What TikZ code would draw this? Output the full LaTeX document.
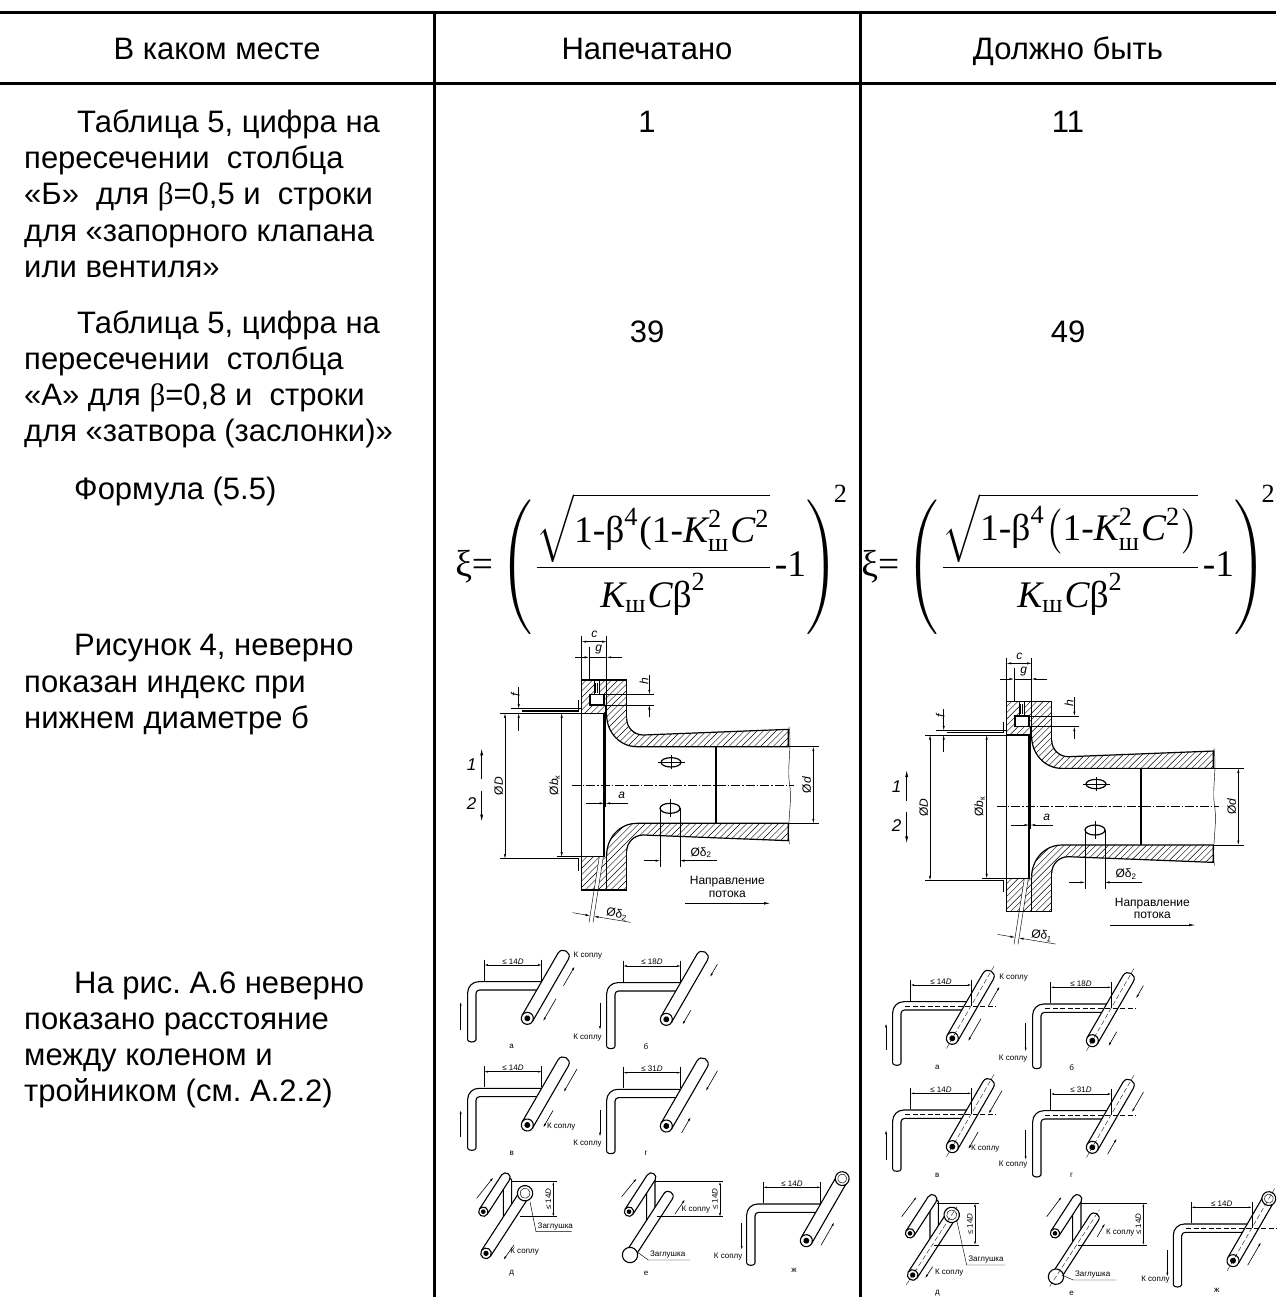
\documentclass[tikz,border=0pt]{standalone}
\usepackage{amsmath}
\usepackage{fontspec}
\setmainfont{Liberation Sans}
\newfontfamily\tms{Liberation Serif}
\usetikzlibrary{arrows.meta}
\frenchspacing

\newcommand\rt[1]{\text{\tms #1}}
\newcommand\ri[1]{\text{\tms\itshape #1}}
\newcommand\bodyfont{\fontsize{31}{36}\selectfont}
\newcommand\pfont{\fontsize{8}{9}\selectfont}
\newcommand\dimfont{\fontsize{12}{13}\selectfont}
\newcommand\numfont{\fontsize{17}{18}\selectfont\itshape}

\tikzset{
  tabrule/.style={line width=3pt},
  thk/.style={line width=1.2pt},
  thn/.style={line width=0.45pt},
  hatchln/.style={line width=0.4pt},
  pipeln/.style={line width=1.1pt},
  arr/.style={thn,-{Latex[length=4.5pt,width=2.2pt]}},
  arrtwo/.style={thn,{Latex[length=4.5pt,width=2.2pt]}-{Latex[length=4.5pt,width=2.2pt]}},
  bigarr/.style={line width=0.8pt,-{Latex[length=7pt,width=3pt]}},
  parr/.style={line width=0.6pt,-{Latex[length=4pt,width=2pt]}},
  parrtwo/.style={thn,{Latex[length=3.5pt,width=1.8pt]}-{Latex[length=3.5pt,width=1.8pt]}},
  axisln/.style={thn,dash pattern=on 9pt off 2pt on 1.5pt off 2pt},
  ctrln/.style={line width=0.35pt,dash pattern=on 5pt off 2.5pt},
  bodytxt/.style={font=\bodyfont, inner sep=0pt, anchor=base west},
  bodyc/.style={font=\bodyfont, inner sep=0pt, anchor=base},
  dlbl/.style={font=\dimfont, inner sep=1pt},
  plbl/.style={font=\pfont, inner sep=0.8pt},
  fml/.style={scale=3.75, inner sep=0pt},
}

% ---------- pipe pieces (local display units) ----------
\newcommand\dpipe[2]{%
  \fill[white] (0,-#2) -- (#1,-#2) .. controls ({#1+1.33*#2},-#2) and ({#1+1.33*#2},#2) .. (#1,#2) -- (0,#2) -- cycle;
  \draw[pipeln] (0,-#2) -- (#1,-#2) .. controls ({#1+1.33*#2},-#2) and ({#1+1.33*#2},#2) .. (#1,#2) -- (0,#2);
  \filldraw[pipeln,fill=white] (0,0) circle[radius=#2];
  \fill (0,0) circle[radius={0.5*#2}];
}
\newcommand\ringcap[2]{%
  \filldraw[pipeln,fill=white] (#1,0) circle[radius={1.15*#2}];
  \draw[thn] (#1,0) circle[radius={0.75*#2}];
}
\newcommand\elbow[1]{%
  \draw[pipeln, rounded corners=11pt] (0,#1) -- (0,0) -- (245,0);
  \draw[pipeln, rounded corners=3.5pt] (25,#1) -- (25,25) -- (245,25);
  \draw[pipeln] (0,#1) .. controls (3,{#1+8}) and (22,{#1+8}) .. (25,#1);
}
% #1 L, #2 dim text, #3 corrected, #4 ring cap
\newcommand\elbowfig[4]{%
  \elbow{#1}
  \begin{scope}[shift={(179,110)},rotate=60]
    \dpipe{215}{18}
    \ifnum#4=1 \ringcap{215}{18}\fi
    \ifnum#3=1 \draw[ctrln] (-35,0) -- (255,0);\fi
  \end{scope}
  \ifnum#3=1
    \draw[ctrln] (38,12.5) -- (310,12.5);
    \draw[thn] (54,-66) -- (54,-3);
    \draw[thn] (236,-66) -- (236,12.5);
    \draw[parrtwo] (54,-50) -- (236,-50);
    \node[plbl,anchor=south] at (145,-50) {#2};
  \else
    \draw[thn] (50,-66) -- (50,-3);
    \draw[thn] (222,-66) -- (222,-3);
    \draw[parrtwo] (50,-50) -- (222,-50);
    \node[plbl,anchor=south] at (136,-50) {#2};
  \fi
}
\newcommand\figD[1]{%
  \draw[pipeln] (60,30) -- (60,-95) .. controls (60,-104) and (85,-104) .. (85,-95) -- (85,10);
  \begin{scope}[rotate=57] \dpipe{122}{14} \end{scope}
  \begin{scope}[shift={(8,125)},rotate=57]
    \dpipe{215}{16}\ringcap{215}{20}
    \ifnum#1=1 \draw[ctrln] (-35,0) -- (245,0);\fi
  \end{scope}
}
\newcommand\figE[1]{%
  \draw[pipeln] (53,30) -- (53,-95) .. controls (53,-104) and (78,-104) .. (78,-95) -- (78,20);
  \begin{scope}[rotate=57] \dpipe{122}{14} \end{scope}
  \begin{scope}[shift={(3,130)},rotate=57]
    \dpipe{210}{15}
    \filldraw[pipeln,fill=white] (0,0) circle[radius=23];
    \ifnum#1=1 \draw[ctrln] (-35,0) -- (240,0);\fi
  \end{scope}
}

% ---------- flange drawing (display units) ----------
\newcommand\flangefig[1]{%
  \begin{scope}
    \clip (425,240) rectangle (498,340) (425,770) rectangle (498,870)
      (498,240) -- (560,240) -- (560,355) .. controls (560,383) and (582,405) .. (610,405) -- (1045,388) -- (1045,440) -- (590,440) .. controls (539,440) and (500,396) .. (500,345) -- (498,345) -- cycle
      (498,870) -- (560,870) -- (560,755) .. controls (560,727) and (582,705) .. (610,705) -- (1045,722) -- (1045,670) -- (590,670) .. controls (539,670) and (500,714) .. (500,765) -- (498,765) -- cycle;
    \foreach \hh in {660,679,...,1920} {\draw[hatchln] ({\hh-230},230) -- ({\hh-880},880);}
  \end{scope}
  \fill[white] (450,283) rectangle (492,315);
  \fill[white] (462,241) rectangle (478,283);
  \fill[white] (478,771) -- (490,771) -- (474.3,869) -- (462.3,869) -- cycle;
  \draw[thk] (560,355) -- (560,240) -- (425,240) -- (425,870) -- (560,870) -- (560,755);
  \draw[thk] (560,355) .. controls (560,383) and (582,405) .. (610,405) -- (1045,388) -- (1045,440) -- (590,440) .. controls (539,440) and (500,396) .. (500,345);
  \draw[thk] (560,755) .. controls (560,727) and (582,705) .. (610,705) -- (1045,722) -- (1045,670) -- (590,670) .. controls (539,670) and (500,714) .. (500,765);
  \draw[thk] (425,340) rectangle (492,770);
  \draw[thk] (500,240) -- (500,345);
  \draw[thk] (500,765) -- (500,870);
  \draw[thk] (450,283) rectangle (492,315);
  \draw[thn] (462,241) -- (462,283);
  \draw[thn] (478,241) -- (478,283);
  \draw[thn] (467,248) -- (467,278);
  \draw[thn] (472,248) -- (472,278);
  \draw[thn] (497,315) -- (497,622);
  \draw[thk] (828,440) -- (828,670);
  \draw[thn] (1047,380) .. controls (1056,450) and (1040,500) .. (1049,555) .. controls (1057,610) and (1041,660) .. (1048,732);
  \draw[thn] (478,770) -- (447,968);
  \draw[thn] (490,770) -- (459,968);
  \draw[axisln] (395,555) -- (1062,555);
  % pressure taps
  \draw[thk] (693,487) ellipse[x radius=30,y radius=14];
  \draw[thn] (655,487) -- (735,487);
  \draw[thn] (693,466) -- (693,508);
  \draw[thk] (690,625) ellipse[x radius=30,y radius=15];
  \draw[thn] (690,598) -- (690,652);
  \draw[thn] (660,625) -- (660,802);
  \draw[thn] (720,625) -- (720,802);
  \draw[arr] (612,782) -- (660,782);
  \draw[arr] (770,782) -- (720,782);
  \draw[thn] (770,782) -- (832,782);
  \node[dlbl] at (783,758) {Øδ\textsubscript{2}};
  % upstream pipe
  \draw[thk] (245,333) -- (415,333) -- (415,300);
  \draw[thk] (245,776) -- (415,776) -- (415,812);
  \draw[thn] (212,326) -- (425,326);
  \draw[thn] (180,340) -- (425,340);
  \draw[thn] (180,776) -- (245,776);
  \draw[thn] (350,770) -- (425,770);
  \draw[arr] (236,262) -- (236,326);
  \draw[arr] (236,392) -- (236,340);
  \node[dlbl,rotate=90] at (226,282) {\textit{f}};
  % D, b
  \draw[arrtwo] (195,340) -- (195,776);
  \node[dlbl,rotate=90,anchor=south] at (193,558) {Ø\textit{D}};
  \draw[arrtwo] (365,340) -- (365,770);
  \node[dlbl,rotate=90,anchor=south] at (363,555) {Ø\textit{b}\textsubscript{к}};
  % c, g
  \draw[thn] (425,108) -- (425,240);
  \draw[thn] (500,108) -- (500,240);
  \draw[arrtwo] (425,125) -- (500,125);
  \node[dlbl] at (463,103) {\textit{c}};
  \draw[thn] (447,140) -- (447,240);
  \draw[arr] (405,172) -- (447,172);
  \draw[arr] (547,172) -- (500,172);
  \draw[thn] (447,172) -- (500,172);
  \node[dlbl] at (476,150) {\textit{g}};
  % h
  \draw[thn] (492,283) -- (642,283);
  \draw[thn] (492,315) -- (642,315);
  \draw[arr] (628,226) -- (628,283);
  \draw[arr] (628,352) -- (628,315);
  \node[dlbl,rotate=90] at (612,243) {\textit{h}};
  % a
  \draw[arr] (438,610) -- (492,610);
  \draw[arr] (563,610) -- (497,610);
  \node[dlbl] at (545,586) {\textit{a}};
  % d
  \draw[thn] (1045,440) -- (1137,440);
  \draw[thn] (1045,670) -- (1137,670);
  \draw[arrtwo] (1120,440) -- (1120,670);
  \node[dlbl,rotate=90,anchor=south] at (1117,555) {Ø\textit{d}};
  % 1 and 2
  \node[font=\numfont,inner sep=0] at (95,495) {1};
  \draw[bigarr] (125,538) -- (125,445);
  \node[font=\numfont,inner sep=0] at (95,612) {2};
  \draw[bigarr] (125,572) -- (125,665);
  % lower delta
  \draw[arr] (398,938) -- (450,947);
  \draw[arr] (572,967) -- (462,949);
  \node[dlbl,rotate=-9] at (530,942) {Øδ\textsubscript{#1}};
  % flow direction
  \node[dlbl] at (862,845) {Направление};
  \node[dlbl] at (862,882) {потока};
  \draw[thn,-{Latex[length=6pt,width=2.5pt]}] (735,910) -- (990,910);
}

\begin{document}
\begin{tikzpicture}[x=1pt,y=-1pt]
\useasboundingbox (0,0) rectangle (1276,1297);
\fill[white] (0,0) rectangle (1276,1297);

% table rules
\draw[tabrule] (0,13) -- (1276,13);
\draw[tabrule] (0,84) -- (1276,84);
\draw[tabrule] (434.5,13) -- (434.5,1297);
\draw[tabrule] (860.5,13) -- (860.5,1297);

% header
\node[bodyc] (h1) at (217,60) {В каком месте};
\node[bodyc] (h2) at (647,60) {Напечатано};
\node[bodyc] (h3) at (1068,60) {Должно быть};

% left column
\node[bodytxt] (t1) at (77,133) {Таблица 5, цифра на};
\node[bodytxt] (t2) at (24,169) {пересечении\ \ столбца};
\node[bodytxt] (t3) at (24,205) {«Б»\ \ для {\tms β}=0,5 и\ \ строки};
\node[bodytxt] (t4) at (24,241) {для «запорного клапана};
\node[bodytxt] (t5) at (24,277) {или вентиля»};
\node[bodytxt] (t6) at (77,333) {Таблица 5, цифра на};
\node[bodytxt] (t7) at (24,369) {пересечении\ \ столбца};
\node[bodytxt] (t8) at (24,405) {«А» для {\tms β}=0,8 и\ \ строки};
\node[bodytxt] (t9) at (24,441) {для «затвора (заслонки)»};
\node[bodytxt] (t10) at (74,499) {Формула (5.5)};
\node[bodytxt] (t11) at (74,655) {Рисунок 4, неверно};
\node[bodytxt] (t12) at (24,692) {показан индекс при};
\node[bodytxt] (t13) at (24,728) {нижнем диаметре б};
\node[bodytxt] (t14) at (74,993) {На рис. А.6 неверно};
\node[bodytxt] (t15) at (24,1029) {показано расстояние};
\node[bodytxt] (t16) at (24,1065) {между коленом и};
\node[bodytxt] (t17) at (24,1101) {тройником (см. А.2.2)};

% numbers
\node[bodyc] (n1) at (647,133) {1};
\node[bodyc] (n2) at (1068,133) {11};
\node[bodyc] (n3) at (647,342) {39};
\node[bodyc] (n4) at (1068,342) {49};

% formulas
\node[fml] (f1) at (652,560) {$\rt{ξ=}\left(\rule[-11pt]{0pt}{27pt}\dfrac{\sqrt{\rt{1-β}^{\rt{4}}\rt{(1-}\ri{K}^{\rt{2}}_{\rt{ш}}\ri{C}^{\rt{2}}}}{\ri{K}_{\rt{ш}}\ri{C}\rt{β}^{\rt{2}}}\rt{-1}\right)^{\!\rt{2}}$};
\node[fml] (f2) at (1069,560) {$\rt{ξ=}\left(\rule[-11pt]{0pt}{27pt}\dfrac{\sqrt{\rt{1-β}^{\rt{4}}{\left(\rt{1-}\ri{K}^{\rt{2}}_{\rt{ш}}\ri{C}^{\rt{2}}\right)}}}{\ri{K}_{\rt{ш}}\ri{C}\rt{β}^{\rt{2}}}\rt{-1}\right)^{\!\rt{2}}$};

% flange drawings
\begin{scope}[shift={(440,600)},scale=1/3]
  \flangefig{2}
\end{scope}
\begin{scope}[shift={(865,621.7)},scale=1/3]
  \flangefig{1}
\end{scope}

% ---------- pipe figures, left column ----------
\begin{scope}[shift={(440,930)},scale=1/3]
  \begin{scope}[shift={(83,155)}]
    \elbowfig{175}{≤ 14\textit{D}}{0}{0}
    \draw[parr] (-21,145) -- (-21,60);
    \begin{scope}[shift={(179,110)},rotate=60]
      \draw[parr] (139,45) -- (206,45);
      \draw[parr] (94,45) -- (16,45);
    \end{scope}
    \node[plbl,anchor=west] (la1) at (315,-77) {К соплу};
    \node[plbl] (la2) at (132,195) {а};
  \end{scope}
  \begin{scope}[shift={(500,158)}]
    \elbowfig{192}{≤ 18\textit{D}}{0}{0}
    \draw[parr] (-20,62) -- (-20,142);
    \begin{scope}[shift={(179,110)},rotate=60]
      \draw[parr] (220,50) -- (175,50);
      \draw[parr] (60,50) -- (10,50);
    \end{scope}
    \node[plbl,anchor=east] (lb1) at (-12,164) {К соплу};
    \node[plbl] (lb2) at (118,192) {б};
  \end{scope}
  \begin{scope}[shift={(83,475)}]
    \elbowfig{180}{≤ 14\textit{D}}{0}{0}
    \draw[parr] (-21,145) -- (-21,65);
    \begin{scope}[shift={(179,110)},rotate=60]
      \draw[parr] (220,45) -- (140,45);
      \draw[parr] (77,45) -- (17,45);
    \end{scope}
    \node[plbl,anchor=west] (lv1) at (235,115) {К соплу};
    \node[plbl] (lv2) at (132,195) {в};
  \end{scope}
  \begin{scope}[shift={(500,478)}]
    \elbowfig{187}{≤ 31\textit{D}}{0}{0}
    \draw[parr] (-20,62) -- (-20,142);
    \begin{scope}[shift={(179,110)},rotate=60]
      \draw[parr] (220,50) -- (150,50);
      \draw[parr] (5,50) -- (60,50);
    \end{scope}
    \node[plbl,anchor=east] (lg1) at (-12,162) {К соплу};
    \node[plbl] (lg2) at (118,192) {г};
  \end{scope}
  \begin{scope}[shift={(920,822)}]
    \elbowfig{178}{≤ 14\textit{D}}{0}{1}
    \draw[parr] (-15,58) -- (-15,138);
    \begin{scope}[shift={(179,110)},rotate=60]
      \draw[parr] (10,45) -- (90,45);
    \end{scope}
    \node[plbl,anchor=east] (lz1) at (-10,158) {К соплу};
    \node[plbl] (lz2) at (142,198) {ж};
  \end{scope}
  \begin{scope}[shift={(130,845)}]
    \figD{0}
    \draw[thn] (85,-90) -- (222,-90);
    \draw[thn] (110,15) -- (222,15);
    \draw[parrtwo] (210,-90) -- (210,15);
    \node[plbl,rotate=90,anchor=south] (ld0) at (206,-38) {≤ 14\textit{D}};
    \draw[parr] (-20,-40) -- (30,-103);
    \draw[parr] (92,100) -- (60,145);
    \node[plbl,anchor=west] (ld1) at (78,120) {К соплу};
    \draw[thn] (140,-30) -- (158,60) -- (265,60);
    \node[plbl,anchor=south west] (ld2) at (160,58) {Заглушка};
    \node[plbl] (ld3) at (85,185) {д};
  \end{scope}
  \begin{scope}[shift={(567,845)}]
    \figE{0}
    \draw[thn] (78,-90) -- (283,-90);
    \draw[thn] (83,15) -- (283,15);
    \draw[parrtwo] (273,-90) -- (273,15);
    \node[plbl,rotate=90,anchor=south] (le0) at (269,-38) {≤ 14\textit{D}};
    \draw[parr] (-22,-45) -- (23,-100);
    \draw[parr] (138,7) -- (168,-37);
    \node[plbl,anchor=west] (le1) at (155,-5) {К соплу};
    \draw[thn] (23,120) -- (58,145) -- (183,145);
    \node[plbl,anchor=south west] (le2) at (60,143) {Заглушка};
    \node[plbl] (le3) at (51,185) {е};
  \end{scope}
\end{scope}

% ---------- pipe figures, right column ----------
\begin{scope}[shift={(860,930)},scale=1/3]
  \begin{scope}[shift={(98,215)}]
    \elbowfig{185}{≤ 14\textit{D}}{1}{0}
    \draw[parr] (-20,145) -- (-20,65);
    \begin{scope}[shift={(179,110)},rotate=60]
      \draw[parr] (139,45) -- (206,45);
      \draw[parr] (94,45) -- (16,45);
    \end{scope}
    \node[plbl,anchor=west] (ra1) at (317,-72) {К соплу};
    \node[plbl] (ra2) at (134,198) {а};
  \end{scope}
  \begin{scope}[shift={(518,222)}]
    \elbowfig{188}{≤ 18\textit{D}}{1}{0}
    \draw[parr] (-21,58) -- (-21,143);
    \begin{scope}[shift={(179,110)},rotate=60]
      \draw[parr] (220,50) -- (175,50);
      \draw[parr] (60,50) -- (10,50);
    \end{scope}
    \node[plbl,anchor=east] (rb1) at (-13,163) {К соплу};
    \node[plbl] (rb2) at (117,191) {б};
  \end{scope}
  \begin{scope}[shift={(98,540)}]
    \elbowfig{178}{≤ 14\textit{D}}{1}{0}
    \draw[parr] (-20,150) -- (-20,60);
    \begin{scope}[shift={(179,110)},rotate=60]
      \draw[parr] (220,45) -- (140,45);
      \draw[parr] (77,45) -- (17,45);
    \end{scope}
    \node[plbl,anchor=west] (rv1) at (232,115) {К соплу};
    \node[plbl] (rv2) at (134,195) {в};
  \end{scope}
  \begin{scope}[shift={(518,542)}]
    \elbowfig{193}{≤ 31\textit{D}}{1}{0}
    \draw[parr] (-21,58) -- (-21,148);
    \begin{scope}[shift={(179,110)},rotate=60]
      \draw[parr] (220,50) -- (150,50);
      \draw[parr] (5,50) -- (60,50);
    \end{scope}
    \node[plbl,anchor=east] (rg1) at (-13,163) {К соплу};
    \node[plbl] (rg2) at (117,193) {г};
  \end{scope}
  \begin{scope}[shift={(940,882)}]
    \elbowfig{183}{≤ 14\textit{D}}{1}{1}
    \draw[parr] (-18,78) -- (-18,158);
    \begin{scope}[shift={(179,110)},rotate=60]
      \draw[parr] (10,45) -- (90,45);
    \end{scope}
    \node[plbl,anchor=east] (rz1) at (-8,166) {К соплу};
    \node[plbl] (rz2) at (130,200) {ж};
  \end{scope}
  \begin{scope}[shift={(150,910)}]
    \figD{1}
    \draw[thn] (80,-90) -- (207,-90);
    \draw[thn] (72,35) -- (207,35);
    \draw[parrtwo] (195,-90) -- (195,35);
    \node[plbl,rotate=90,anchor=south] (rd0) at (191,-28) {≤ 14\textit{D}};
    \draw[parr] (-25,-50) -- (20,-110);
    \draw[parr] (68,100) -- (45,135);
    \node[plbl,anchor=west] (rd1) at (72,118) {К соплу};
    \draw[thn] (140,-40) -- (170,95) -- (285,95);
    \node[plbl,anchor=south west] (rd2) at (172,93) {Заглушка};
    \node[plbl] (rd3) at (82,180) {д};
  \end{scope}
  \begin{scope}[shift={(585,910)}]
    \figE{1}
    \draw[thn] (78,-90) -- (275,-90);
    \draw[thn] (70,35) -- (275,35);
    \draw[parrtwo] (265,-90) -- (265,35);
    \node[plbl,rotate=90,anchor=south] (re0) at (261,-28) {≤ 14\textit{D}};
    \draw[parr] (-25,-50) -- (20,-110);
    \draw[parr] (127,10) -- (150,-30);
    \node[plbl,anchor=west] (re1) at (150,-2) {К соплу};
    \draw[thn] (20,125) -- (55,140) -- (185,140);
    \node[plbl,anchor=south west] (re2) at (57,138) {Заглушка};
    \node[plbl] (re3) at (50,180) {е};
  \end{scope}
\end{scope}

\end{tikzpicture}
\end{document}
